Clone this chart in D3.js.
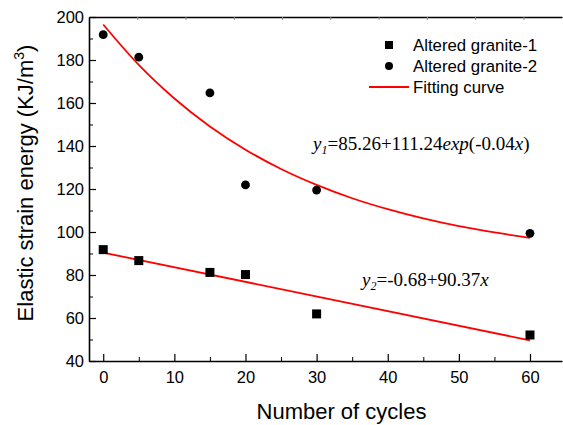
<!DOCTYPE html>
<html>
<head>
<meta charset="utf-8">
<script src="https://cdn.jsdelivr.net/npm/d3@7"></script>
<style>
  body { margin: 0; background: #fff; }
  svg text { font-family: "Liberation Sans", Arial, sans-serif; fill: #000; }
  .eq { font-family: "Liberation Serif", "Times New Roman", serif; font-size: 19px; }
</style>
</head>
<body>
<svg id="chart"></svg>
<script>
// data
const cycles = [0, 5, 15, 20, 30, 60];
const granite1 = [91.8, 86.7, 81.2, 80.2, 61.9, 52.1];
const granite2 = [191.8, 181.3, 164.7, 121.9, 119.5, 99.4];

// fitted curves, sampled off the drawn red lines
const fit1X = [0, 5, 10, 15, 20, 25, 30, 35, 40, 45, 50, 55, 60];
const fit1Y = [196.5, 177.7, 162.1, 149.1, 138.3, 129.3, 121.9, 115.7, 110.6, 106.3, 102.7, 99.8, 97.3];
const fit2X = [0, 60];
const fit2Y = [90.4, 49.6];

const xTicks = [0, 10, 20, 30, 40, 50, 60];
const yTicks = [40, 60, 80, 100, 120, 140, 160, 180, 200];

const W = 563, H = 425;
const plot = { left: 89, right: 562, top: 17, bottom: 361 };

const svg = d3.select("#chart").attr("width", W).attr("height", H);

const x = d3.scaleLinear().domain([-2, 64.5]).range([plot.left, plot.right]);
const y = d3.scaleLinear().domain([40, 200]).range([plot.bottom, plot.top]);

// minor ticks (inward)
svg.append("g")
    .attr("transform", `translate(0,${plot.bottom})`)
    .call(d3.axisTop(x).tickValues(d3.range(5, 65, 10)).tickSize(4).tickFormat(""))
    .call(g => g.select(".domain").remove());
svg.append("g")
    .attr("transform", `translate(${plot.left},0)`)
    .call(d3.axisRight(y).tickValues(d3.range(50, 200, 20)).tickSize(4).tickFormat(""))
    .call(g => g.select(".domain").remove());

// top frame with its own faint ticks
const xTop = d3.scaleLinear().domain([0, 9.8]).range([plot.left, plot.right]);
svg.append("g")
    .attr("transform", `translate(0,${plot.top})`)
    .call(d3.axisBottom(xTop).ticks(10).tickSize(3).tickFormat("").tickSizeOuter(0))
    .call(g => g.selectAll(".tick").filter(d => d === 0).remove())
    .call(g => g.select(".domain").attr("stroke-width", 1.6))
    .call(g => g.selectAll(".tick line").attr("stroke", "#888"));

// bottom axis
const xAxis = svg.append("g")
    .attr("transform", `translate(0,${plot.bottom})`)
    .call(d3.axisTop(x).tickValues(xTicks).tickSize(7).tickSizeOuter(0));
xAxis.select(".domain").attr("stroke-width", 1.6);
xAxis.selectAll(".tick line").attr("stroke-width", 1.2);
xAxis.selectAll(".tick text")
    .attr("y", 22).attr("dy", 0)
    .attr("font-size", 16.5)
    .attr("font-family", "Liberation Sans, Arial, sans-serif");

// left axis
const yAxis = svg.append("g")
    .attr("transform", `translate(${plot.left},0)`)
    .call(d3.axisRight(y).tickValues(yTicks).tickSize(7).tickSizeOuter(0));
yAxis.select(".domain").attr("stroke-width", 1.6);
yAxis.selectAll(".tick line").attr("stroke-width", 1.2);
yAxis.selectAll(".tick text")
    .attr("x", -5).attr("text-anchor", "end")
    .attr("font-size", 16.5)
    .attr("font-family", "Liberation Sans, Arial, sans-serif");

// axis titles
svg.append("text")
    .attr("x", (plot.left + plot.right) / 2 + 16)
    .attr("y", 419)
    .attr("text-anchor", "middle")
    .attr("font-size", 22)
    .text("Number of cycles");

const yl = svg.append("text")
    .attr("transform", "translate(33,183) rotate(-90)")
    .attr("text-anchor", "middle")
    .attr("font-size", 22);
yl.append("tspan").text("Elastic strain energy (KJ/m");
yl.append("tspan").attr("font-size", 14).attr("dy", -9).text("3");
yl.append("tspan").attr("dy", 9).text(")");

// fitting curves
const line = d3.line().x(d => x(d[0])).y(d => y(d[1]));
svg.append("path")
    .datum(d3.zip(fit1X, fit1Y))
    .attr("fill", "none").attr("stroke", "#ff0000").attr("stroke-width", 1.8)
    .attr("d", line.curve(d3.curveMonotoneX));
svg.append("path")
    .datum(d3.zip(fit2X, fit2Y))
    .attr("fill", "none").attr("stroke", "#ff0000").attr("stroke-width", 1.8)
    .attr("d", line.curve(d3.curveLinear));

// markers
const sq = 9;
svg.append("g").selectAll("rect")
    .data(d3.zip(cycles, granite1))
    .join("rect")
    .attr("x", d => x(d[0]) - sq / 2)
    .attr("y", d => y(d[1]) - sq / 2)
    .attr("width", sq).attr("height", sq)
    .attr("fill", "#000");
svg.append("g").selectAll("circle")
    .data(d3.zip(cycles, granite2))
    .join("circle")
    .attr("cx", d => x(d[0]))
    .attr("cy", d => y(d[1]))
    .attr("r", 4.4)
    .attr("fill", "#000");

// legend
const legend = svg.append("g");
const legendItems = ["Altered granite-1", "Altered granite-2", "Fitting curve"];
legendItems.forEach((name, i) => {
  const ly = 45 + i * 21;
  if (i === 0) legend.append("rect").attr("x", 385).attr("y", ly - 4).attr("width", 8).attr("height", 8);
  if (i === 1) legend.append("circle").attr("cx", 389).attr("cy", ly).attr("r", 4);
  if (i === 2) legend.append("line").attr("x1", 369).attr("x2", 409).attr("y1", ly).attr("y2", ly)
      .attr("stroke", "#ff0000").attr("stroke-width", 1.8);
  legend.append("text")
    .attr("x", 413).attr("y", ly + 6)
    .attr("font-size", 16.8)
    .text(name);
});

// equations
const eq1 = svg.append("text").attr("class", "eq").attr("x", 313).attr("y", 150);
eq1.append("tspan").attr("font-style", "italic").text("y");
eq1.append("tspan").attr("font-style", "italic").attr("font-size", 12).attr("dy", 4).text("1");
eq1.append("tspan").attr("dy", -4).text("=85.26+111.24");
eq1.append("tspan").attr("font-style", "italic").text("exp");
eq1.append("tspan").text("(-0.04");
eq1.append("tspan").attr("font-style", "italic").text("x");
eq1.append("tspan").text(")");

const eq2 = svg.append("text").attr("class", "eq").attr("x", 362).attr("y", 286);
eq2.append("tspan").attr("font-style", "italic").text("y");
eq2.append("tspan").attr("font-style", "italic").attr("font-size", 12).attr("dy", 4).text("2");
eq2.append("tspan").attr("dy", -4).text("=-0.68+90.37");
eq2.append("tspan").attr("font-style", "italic").text("x");
</script>
</body>
</html>
